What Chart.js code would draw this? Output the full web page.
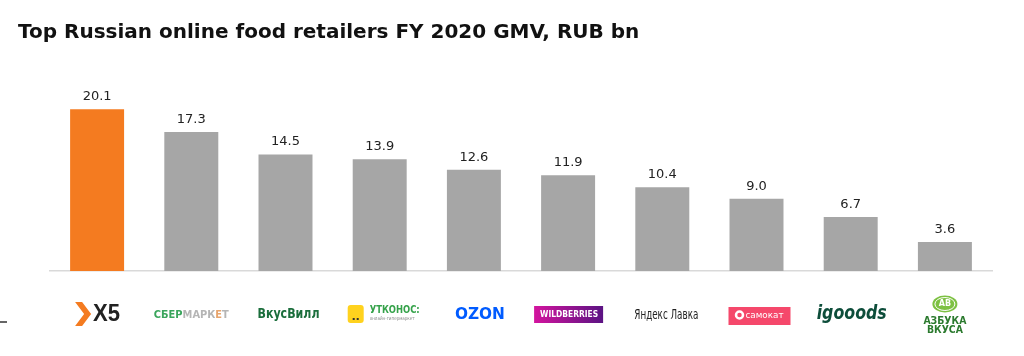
<!DOCTYPE html>
<html><head><meta charset="utf-8">
<script src="https://cdn.jsdelivr.net/npm/chart.js@4"></script>
<style>html,body{margin:0;padding:0;background:#fff}#wrap{width:1024px;height:356px;position:relative}</style>
</head><body><div id="wrap"><canvas id="c" width="1024" height="356"></canvas></div>
<script>
const titleText = 'Top Russian online food retailers FY 2020 GMV, RUB bn';
const retailers = ['X5', 'СберМаркет', 'ВкусВилл', 'Утконос', 'OZON', 'Wildberries', 'Яндекс Лавка', 'Самокат', 'igooods', 'Азбука Вкуса'];
const gmv = [20.1, 17.3, 14.5, 13.9, 12.6, 11.9, 10.4, 9.0, 6.7, 3.6];
const valueLabels = ['20.1', '17.3', '14.5', '13.9', '12.6', '11.9', '10.4', '9.0', '6.7', '3.6'];

const ORANGE = '#F47B20', GREY = '#A6A6A6';

function txt(ctx, s, x, y, font, color, align, maxW) {
  ctx.font = font; ctx.fillStyle = color; ctx.textAlign = align || 'center'; ctx.textBaseline = 'middle';
  if (maxW) ctx.fillText(s, x, y, maxW); else ctx.fillText(s, x, y);
}
function rr(ctx, x, y, w, h, r) {
  ctx.beginPath(); ctx.moveTo(x + r, y); ctx.lineTo(x + w - r, y); ctx.quadraticCurveTo(x + w, y, x + w, y + r);
  ctx.lineTo(x + w, y + h - r); ctx.quadraticCurveTo(x + w, y + h, x + w - r, y + h);
  ctx.lineTo(x + r, y + h); ctx.quadraticCurveTo(x, y + h, x, y + h - r);
  ctx.lineTo(x, y + r); ctx.quadraticCurveTo(x, y, x + r, y); ctx.closePath();
}

const logoDrawers = [
  (ctx, cx, cy) => { // X5
    ctx.fillStyle = ORANGE; ctx.beginPath();
    ctx.moveTo(cx - 22, cy - 12); ctx.lineTo(cx - 15, cy - 12); ctx.lineTo(cx - 6, cy);
    ctx.lineTo(cx - 15, cy + 12); ctx.lineTo(cx - 22, cy + 12); ctx.lineTo(cx - 13, cy); ctx.closePath(); ctx.fill();
    txt(ctx, 'X5', cx - 4, cy + 1, 'bold 23px "Liberation Sans", Arial', '#222', 'left', 27);
  },
  (ctx, cx, cy) => { // СберМаркет
    ctx.font = 'bold 10px "DejaVu Sans"';
    const parts = [['СБЕР', '#3aa55c'], ['МАРК', '#b5b5b5'], ['Е', '#e7a46c'], ['Т', '#b5b5b5']];
    let total = parts.reduce((a, p) => a + ctx.measureText(p[0]).width, 0);
    const scale = 75 / total; let x = cx - 37.5;
    parts.forEach(p => { ctx.font = 'bold 10px "DejaVu Sans"'; const w = ctx.measureText(p[0]).width * scale; txt(ctx, p[0], x, cy + 1, 'bold 10px "DejaVu Sans"', p[1], 'left', w); x += w; });
  },
  (ctx, cx, cy) => { // ВкусВилл
    txt(ctx, 'ВкусВилл', cx + 3, cy, 'bold 14px "DejaVu Sans"', '#1b6e3c', 'center', 62);
  },
  (ctx, cx, cy) => { // Утконос
    ctx.fillStyle = '#FFD21E'; rr(ctx, cx - 32, cy - 9, 16, 18, 3); ctx.fill();
    ctx.fillStyle = '#333'; ctx.fillRect(cx - 27, cy + 4, 2, 2); ctx.fillRect(cx - 23, cy + 4, 2, 2);
    txt(ctx, 'УТКОНОС:', cx - 10, cy - 4, 'bold 10px "DejaVu Sans"', '#35a24a', 'left', 50);
    txt(ctx, 'онлайн-гипермаркет', cx - 10, cy + 5, '5px "DejaVu Sans"', '#888', 'left', 45);
  },
  (ctx, cx, cy) => { // OZON
    txt(ctx, 'OZON', cx + 6, cy + 1, 'bold 16px "DejaVu Sans"', '#005BFF', 'center', 50);
  },
  (ctx, cx, cy) => { // Wildberries
    const g = ctx.createLinearGradient(cx - 34, 0, cx + 35, 0);
    g.addColorStop(0, '#D3149E'); g.addColorStop(1, '#5B1383');
    ctx.fillStyle = g; ctx.fillRect(cx - 34, cy - 8, 69, 17);
    txt(ctx, 'WILDBERRIES', cx + 1, cy + 1, 'bold 9px "DejaVu Sans"', '#fff', 'center', 58);
  },
  (ctx, cx, cy) => { // Яндекс Лавка
    txt(ctx, 'Яндекс Лавка', cx + 4, cy + 1, '14px "Liberation Sans Narrow", "DejaVu Sans Condensed"', '#222', 'center', 64);
  },
  (ctx, cx, cy) => { // Самокат
    ctx.fillStyle = '#F5486B'; ctx.fillRect(cx - 28, cy - 7, 62, 18);
    ctx.strokeStyle = '#fff'; ctx.lineWidth = 2.5; ctx.beginPath(); ctx.arc(cx - 17, cy + 1, 3.5, 0, Math.PI * 2); ctx.stroke();
    txt(ctx, 'самокат', cx + 8, cy + 2, '9px "DejaVu Sans"', '#fff', 'center', 38);
  },
  (ctx, cx, cy) => { // igooods
    txt(ctx, 'igooods', cx + 1, cy, 'italic bold 20px "DejaVu Sans"', '#0D4D3A', 'center', 70);
  },
  (ctx, cx, cy) => { // Азбука Вкуса
    ctx.fillStyle = '#7DC142'; ctx.beginPath(); ctx.ellipse(cx, cy - 10, 12.5, 8.5, 0, 0, Math.PI * 2); ctx.fill();
    ctx.strokeStyle = '#fff'; ctx.lineWidth = 1; ctx.beginPath(); ctx.ellipse(cx, cy - 10, 10, 6.5, 0, 0, Math.PI * 2); ctx.stroke();
    txt(ctx, 'АВ', cx, cy - 10, 'bold 8px "DejaVu Sans"', '#fff', 'center', 13);
    txt(ctx, 'АЗБУКА', cx, cy + 7, 'bold 10px "DejaVu Sans"', '#2B7A2E', 'center', 43);
    txt(ctx, 'ВКУСА', cx, cy + 16, 'bold 10px "DejaVu Sans"', '#2B7A2E', 'center', 36);
  }
];

const extras = {
  id: 'extras',
  afterDraw(chart) {
    const ctx = chart.ctx; const xs = chart.scales.x;
    ctx.save();
    ctx.font = 'bold 20px "DejaVu Sans"'; ctx.fillStyle = '#111'; ctx.textAlign = 'left'; ctx.textBaseline = 'alphabetic';
    ctx.fillText(titleText, 18, 38);
    const meta = chart.getDatasetMeta(0);
    meta.data.forEach((bar, i) => {
      ctx.font = '13px "DejaVu Sans"'; ctx.fillStyle = '#222'; ctx.textAlign = 'center'; ctx.textBaseline = 'alphabetic';
      ctx.fillText(valueLabels[i], bar.x, bar.y - 9);
    });
    retailers.forEach((r, i) => { logoDrawers[i](ctx, xs.getPixelForValue(i), 314); });
    ctx.strokeStyle = '#333'; ctx.lineWidth = 1.5; ctx.beginPath(); ctx.moveTo(0, 322); ctx.lineTo(7, 322); ctx.stroke();
    ctx.restore();
  }
};

new Chart(document.getElementById('c'), {
  type: 'bar',
  data: {
    labels: retailers,
    datasets: [{
      data: gmv,
      backgroundColor: gmv.map((v, i) => i === 0 ? ORANGE : GREY),
      barPercentage: 0.573, categoryPercentage: 1.0, borderWidth: 0
    }]
  },
  options: {
    responsive: false, animation: false, devicePixelRatio: 1,
    layout: { padding: { left: 50, right: 32, top: 78, bottom: 85 } },
    plugins: { legend: { display: false }, tooltip: { enabled: false }, title: { display: false } },
    scales: {
      x: { grid: { display: false, drawTicks: false }, ticks: { display: false }, border: { color: '#D9D9D9', width: 1.5 } },
      y: { display: false, min: 0, max: 24 }
    }
  },
  plugins: [extras]
});
</script></body></html>
